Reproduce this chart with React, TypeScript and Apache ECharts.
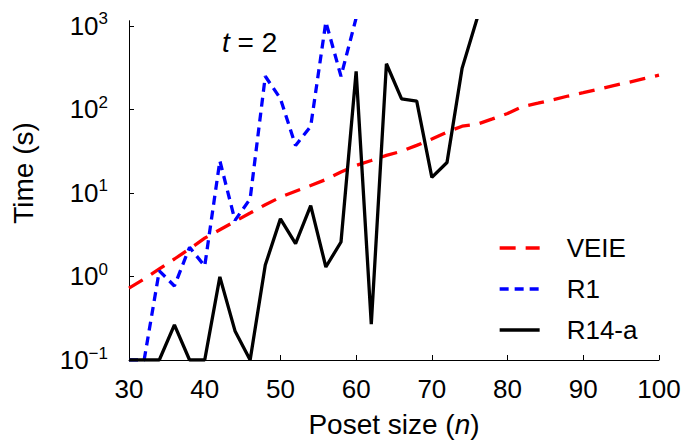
import React, { useEffect, useRef } from "react";
import * as echarts from "echarts";

const nValues = [30, 32, 34, 36, 38, 40, 42, 44, 46, 48, 50, 52, 54, 56, 58, 60, 62, 64, 66, 68, 70, 72, 74, 76, 78, 80, 82, 84, 86, 88, 90, 92, 94, 96, 98, 100];

const veie = [0.724, 0.933, 1.23, 1.62, 2.14, 2.88, 3.63, 4.57, 5.75, 7.24, 8.91, 10.5, 12.3, 14.5, 17.8, 21.4, 24.5, 28.2, 31.6, 37.2, 44.2, 53.7, 63.1, 66.8, 77.1, 89.5, 108.6, 119, 131, 145, 159, 175, 193, 212, 234, 258];

const r1 = [0.1, 0.1, 1.17, 0.77, 2.24, 1.33, 24.3, 4.7, 8.5, 250, 135, 37, 63, 1120, 250, 1250, 5000];

const r14a = [0.1, 0.1, 0.1, 0.263, 0.1, 0.1, 0.99, 0.223, 0.1, 1.37, 4.9, 2.47, 7.06, 1.3, 2.59, 286, 0.268, 353, 134, 126, 15.4, 23.2, 313, 1250, 5000];

const yTickValues = [0.1, 1, 10, 100, 1000];
const xTickLabels = [30, 40, 50, 60, 70, 80, 90, 100];

const seriesNames = ["VEIE", "R1", "R14-a"];

const FONT = "'Liberation Sans', Arial, Helvetica, sans-serif";

function pairs(vals: number[]) {
  return vals.map((v, i) => [nValues[i], v]);
}

export default function App() {
  const ref = useRef<HTMLDivElement>(null);
  useEffect(() => {
    if (!ref.current) return;
    const chart = echarts.init(ref.current, undefined, { renderer: "svg" });
    const supRich = {
      b: { fontSize: 26, fontFamily: FONT, color: "#000" },
      s: { fontSize: 17, fontFamily: FONT, color: "#000", padding: [0, 0, 14, 0] },
    };
    chart.setOption({
      animation: false,
      backgroundColor: "#fff",
      grid: { left: 129, top: 20.7, right: 27, bottom: 81, containLabel: false },
      xAxis: {
        type: "value",
        min: 30,
        max: 100,
        interval: 10,
        axisLine: { show: true, lineStyle: { color: "#000", width: 1 } },
        axisTick: { show: true, inside: true, length: 5, lineStyle: { color: "#000" } },
        axisLabel: {
          fontSize: 26,
          fontFamily: FONT,
          color: "#000",
          margin: 16,
          formatter: (v: number) => (xTickLabels.indexOf(v) >= 0 ? String(v) : ""),
        },
        splitLine: { show: false },
        name: "Poset size ({i|n})",
        nameLocation: "middle",
        nameGap: 50,
        nameTextStyle: {
          fontSize: 28,
          fontFamily: FONT,
          color: "#000",
          rich: { i: { fontSize: 28, fontFamily: FONT, fontStyle: "italic", color: "#000" } },
        },
      },
      yAxis: {
        type: "log",
        logBase: 10,
        min: 0.1,
        max: 1157,
        axisLine: { show: true, lineStyle: { color: "#000", width: 1 } },
        axisTick: { show: true, inside: true, length: 5, lineStyle: { color: "#000" }, customValues: yTickValues },
        axisLabel: {
          customValues: yTickValues,
          margin: 21,
          formatter: (v: number) => {
            const e = Math.round(Math.log10(v));
            return "{b|10}{s|" + (e < 0 ? "\u2212" + Math.abs(e) : String(e)) + "}";
          },
          rich: supRich,
        },
        splitLine: { show: false },
      },
      legend: {
        orient: "vertical",
        left: 493,
        top: 230,
        itemWidth: 40,
        itemHeight: 14,
        itemGap: 15,
        data: seriesNames,
        itemStyle: { opacity: 0 },
        lineStyle: { width: 3.3 },
        textStyle: { fontSize: 26, fontFamily: FONT, color: "#000", padding: [0, 0, 0, 22] },
      },
      graphic: [
        {
          type: "text",
          x: 23,
          y: 173,
          rotation: Math.PI / 2,
          style: {
            text: "Time (s)",
            fontSize: 28,
            fontFamily: FONT,
            fill: "#000",
            textAlign: "center",
            textVerticalAlign: "middle",
          },
        },
        {
          type: "text",
          x: 222,
          y: 42,
          style: {
            text: "{i|t} = 2",
            fontSize: 28,
            fontFamily: FONT,
            fill: "#000",
            textAlign: "left",
            textVerticalAlign: "middle",
            rich: { i: { fontSize: 28, fontFamily: FONT, fontStyle: "italic", fill: "#000" } },
          },
        },
      ],
      series: [
        {
          name: seriesNames[0],
          type: "line",
          data: pairs(veie),
          symbol: "none",
          clip: true,
          lineStyle: { color: "#ff0000", width: 3.3, type: [16, 10] },
          itemStyle: { color: "#ff0000" },
          z: 2,
        },
        {
          name: seriesNames[1],
          type: "line",
          data: pairs(r1),
          symbol: "none",
          clip: true,
          lineStyle: { color: "#0000ff", width: 3.3, type: [9, 6] },
          itemStyle: { color: "#0000ff" },
          z: 3,
        },
        {
          name: seriesNames[2],
          type: "line",
          data: pairs(r14a),
          symbol: "none",
          clip: true,
          lineStyle: { color: "#000000", width: 3.3, type: "solid" },
          itemStyle: { color: "#000000" },
          z: 4,
        },
      ],
    });
    return () => chart.dispose();
  }, []);
  return <div ref={ref} style={{ width: 686, height: 443, position: "absolute", left: 0, top: 0 }} />;
}
